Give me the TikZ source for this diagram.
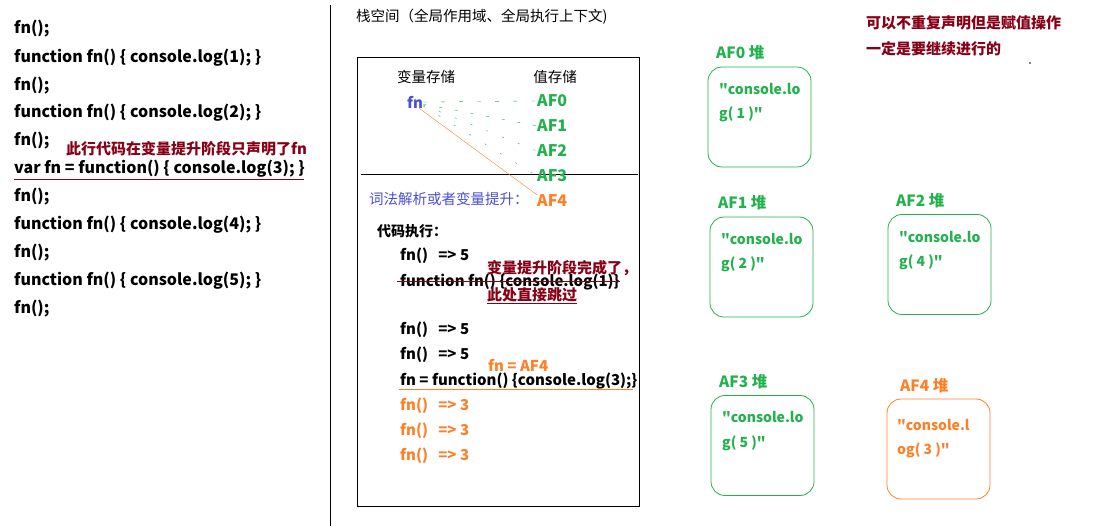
\documentclass[tikz,border=0pt]{standalone}
\usepackage{fontspec}
\setmainfont{Noto Sans CJK SC}[Ligatures=TeXOff]
\definecolor{gr}{HTML}{22B14C}
\definecolor{og}{HTML}{FF7F27}
\definecolor{dr}{HTML}{880015}
\definecolor{bl}{HTML}{4A4ED8}
\begin{document}
\begin{tikzpicture}[x=1pt,y=-1pt,
  code/.style={anchor=west,inner sep=0pt,font=\bfseries\fontsize{16}{16}\selectfont},
  bcode/.style={anchor=west,inner sep=0pt,font=\bfseries\fontsize{15}{15}\selectfont},
  plain/.style={anchor=west,inner sep=0pt,font=\fontsize{14.5}{14.5}\selectfont},
  heap/.style={draw=gr,rounded corners=14pt,minimum width=103pt,minimum height=100pt,inner sep=0pt,line width=0.8pt},
  hlabel/.style={anchor=west,inner sep=0pt,text=gr,font=\bfseries\fontsize{15.5}{15.5}\selectfont},
  htext/.style={anchor=west,inner sep=0pt,text=gr,font=\bfseries\fontsize{14}{14}\selectfont},
  note/.style={anchor=west,inner sep=0pt,text=dr,font=\bfseries\fontsize{15}{15}\selectfont}]
\useasboundingbox (0,0) rectangle (1100,526);
% left code
\node[code] (l1) at (14,29) {fn();};
\node[code] (l2) at (14,58) {function fn() \{ console.log(1); \}};
\node[code] (l3) at (14,86) {fn();};
\node[code] (l4) at (14,113) {function fn() \{ console.log(2); \}};
\node[code] (l5) at (14,141) {fn();};
\node[code] (l6) at (14,169) {var fn = function() \{ console.log(3); \}};
\node[code] (l7) at (14,197) {fn();};
\node[code] (l8) at (14,225) {function fn() \{ console.log(4); \}};
\node[code] (l9) at (14,253) {fn();};
\node[code] (l10) at (14,281) {function fn() \{ console.log(5); \}};
\node[code] (l11) at (14,309) {fn();};
\node[note] (n1) at (66,149) {此行代码在变量提升阶段只声明了fn};
\draw[dr,line width=0.8pt] (14,179) -- (304,179);
\draw[line width=0.8pt] (330,5) -- (330,526);
% stack
\node[plain] (hdr) at (356,17) {栈空间（全局作用域、全局执行上下文)};
\draw[line width=0.8pt] (357,57) rectangle (639,506);
\draw[line width=0.8pt] (361,174) -- (638,174);
\node[plain,anchor=center] (vs) at (426,77) {变量存储};
\node[plain,anchor=center] (ws) at (555,77) {值存储};
\node[bcode,text=bl] (fn) at (407,102) {fn};
\node[code,text=gr] (a0) at (537,101) {AF0};
\node[code,text=gr] (a1) at (537,126) {AF1};
\node[code,text=gr] (a2) at (537,151) {AF2};
\node[code,text=gr] (a3) at (537,176) {AF3};
\node[code,text=og] (a4) at (537,201) {AF4};
\draw[gr,dash pattern=on 4pt off 14pt] (fn.east) -- (a0.west);
\draw[gr,dash pattern=on 3pt off 13pt] ([yshift=-2pt]fn.east) -- (a1.west);
\draw[gr,dash pattern=on 2pt off 15pt] ([yshift=-3pt]fn.east) -- (a2.west);
\draw[gr,dash pattern=on 2pt off 16pt] ([yshift=-4pt]fn.east) -- (a3.west);
\draw[og] ([xshift=-4pt]fn.south east) -- (a4.north west);
\node[plain,text=bl] (lex) at (369,199) {词法解析或者变量提升：};
\node[bcode,font=\bfseries\fontsize{14}{14}\selectfont] (exe) at (377,231) {代码执行：};
\node[bcode] (e1) at (400,256) {fn()\ \ \ => 5};
\node[bcode] (e2) at (400,282) {function fn() \{console.log(1)\}};
\draw[dr,line width=0.8pt] (397,281) -- (620,281);
\node[note] (n2) at (487,268) {变量提升阶段完成了，};
\node[note] (n3) at (487,295) {此处直接跳过};
\draw[dr,line width=0.8pt] (487,303) -- (577,303);
\node[bcode] (e3) at (400,330) {fn()\ \ \ => 5};
\node[bcode] (e4) at (400,355) {fn()\ \ \ => 5};
\node[bcode,text=og] (fa) at (488,365) {fn = AF4};
\node[bcode] (e5) at (400,381) {fn = function() \{console.log(3);\}};
\draw[og,line width=0.8pt] (399,389) -- (633,389);
\node[bcode,text=og] (e6) at (400,406) {fn()\ \ \ => 3};
\node[bcode,text=og] (e7) at (400,431) {fn()\ \ \ => 3};
\node[bcode,text=og] (e8) at (400,456) {fn()\ \ \ => 3};
% heaps
\node[hlabel] (h0l) at (716,53) {AF0 堆};
\node[heap] (h0) at (759.5,117) {};
\node[htext] (h0a) at (719,89) {"console.lo};
\node[htext] (h0b) at (719,114) {g( 1 )"};
\node[hlabel] (h1l) at (718,203) {AF1 堆};
\node[heap] (h1) at (761.5,267) {};
\node[htext] (h1a) at (721,239) {"console.lo};
\node[htext] (h1b) at (721,264) {g( 2 )"};
\node[hlabel] (h2l) at (896,201) {AF2 堆};
\node[heap] (h2) at (939.5,264.5) {};
\node[htext] (h2a) at (899,237) {"console.lo};
\node[htext] (h2b) at (899,262) {g( 4 )"};
\node[hlabel] (h3l) at (719,382) {AF3 堆};
\node[heap] (h3) at (762.5,445.5) {};
\node[htext] (h3a) at (722,417) {"console.lo};
\node[htext] (h3b) at (722,443) {g( 5 )"};
\node[hlabel,text=og] (h4l) at (900,386) {AF4 堆};
\node[heap,draw=og] (h4) at (938.5,449) {};
\node[htext,text=og] (h4a) at (897,425) {"console.l};
\node[htext,text=og] (h4b) at (897,450) {og( 3 )"};
\node[note] (n4) at (866,23) {可以不重复声明但是赋值操作};
\node[note] (n5) at (866,49) {一定是要继续进行的};
\fill (1030,63) circle (0.8pt);
\end{tikzpicture}
\end{document}
